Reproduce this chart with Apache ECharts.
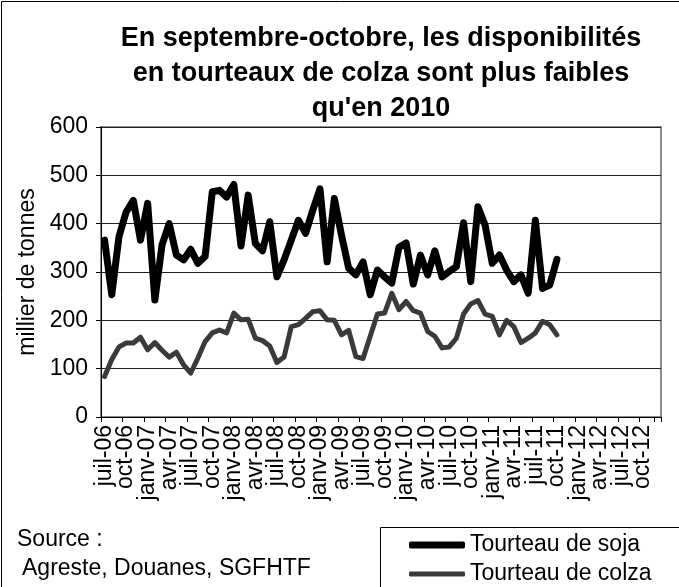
<!DOCTYPE html>
<html>
<head>
<meta charset="utf-8">
<script src="https://cdn.jsdelivr.net/npm/echarts@6/dist/echarts.min.js"></script>
<style>
html,body{margin:0;padding:0;background:#fff;}
#chart{width:679px;height:587px;}
</style>
</head>
<body>
<div id="chart"></div>
<script>
// ---- data ----
var monthNames = ['janv','févr','mars','avr','mai','juin','juil','août','sept','oct','nov','déc'];
var startYear = 2006, startMonth = 6, nMonths = 78; // juil-06 .. déc-12
var categories = [];
for (var k = 0; k < nMonths; k++) {
  var m = (startMonth + k) % 12;
  var y = startYear + Math.floor((startMonth + k) / 12);
  categories.push(monthNames[m] + '-' + String(y).slice(2));
}
// juil-06 .. oct-11 (milliers de tonnes)
var soja = [366,253,373,424,448,366,442,242,356,400,335,325,347,318,332,466,469,455,481,354,
            459,359,344,404,290,325,366,407,380,428,472,321,452,376,308,294,321,253,304,290,
            277,351,360,275,335,294,344,290,301,311,402,280,435,397,318,335,304,280,294,256,
            407,266,273,326];
var colza = [84,119,145,153,153,165,139,154,138,124,134,108,91,122,156,174,180,174,215,201,
             202,163,158,147,113,124,187,191,204,218,220,201,200,170,179,125,121,167,213,215,
             256,222,239,220,215,177,167,143,145,163,213,234,241,213,208,170,200,187,154,163,
             174,198,191,170];
var yTicks = {min: 0, max: 600, interval: 100};
var labelEvery = 3;
var seriesNames = ['Tourteau de soja', 'Tourteau de colza'];
var titleText = "En septembre-octobre, les disponibilités\nen tourteaux de colza sont plus faibles\nqu'en 2010";

var FONT = '"Liberation Sans", Arial, sans-serif';
var chart = echarts.init(document.getElementById('chart'), null, {renderer: 'canvas'});
var legendText = {fontSize: 23, color: '#000', fontFamily: FONT, lineHeight: 26};
chart.setOption({
  animation: false,
  backgroundColor: '#fff',
  textStyle: {fontFamily: FONT, color: '#000'},
  title: {
    text: titleText,
    left: 376, top: 16, textAlign: 'center',
    textStyle: {fontFamily: FONT, fontSize: 27, fontWeight: 'bold', color: '#000', lineHeight: 35}
  },
  grid: {left: 101, right: 18, top: 127, bottom: 170, show: true, borderColor: '#8c8c8c', borderWidth: 2, backgroundColor: 'transparent'},
  xAxis: {
    type: 'category',
    data: categories,
    boundaryGap: true,
    axisLine: {lineStyle: {color: '#000', width: 1}},
    axisTick: {show: true, interval: labelEvery - 1, length: 5, lineStyle: {color: '#000'}},
    axisLabel: {interval: 0, rotate: 90, margin: 8, fontSize: 23, color: '#000', fontFamily: FONT,
                hideOverlap: false,
                formatter: function (v, i) { return i % labelEvery === 0 ? v : ''; }},
    splitLine: {show: false}
  },
  yAxis: {
    type: 'value',
    min: yTicks.min, max: yTicks.max, interval: yTicks.interval,
    name: 'millier de tonnes',
    nameLocation: 'middle',
    nameGap: 44,
    nameTextStyle: {fontSize: 23, color: '#000', fontFamily: FONT},
    axisLine: {show: true, lineStyle: {color: '#000', width: 1}},
    axisTick: {show: true, length: 5, lineStyle: {color: '#000'}},
    axisLabel: {fontSize: 23, color: '#000', margin: 13, fontFamily: FONT, showMinLabel: true, showMaxLabel: true},
    splitLine: {show: true, lineStyle: {color: '#222', width: 1}}
  },
  legend: [
    {left: 409, top: 532, itemWidth: 56, itemHeight: 7, icon: 'roundRect', textStyle: legendText, data: [seriesNames[0]], padding: 0},
    {left: 409, top: 561, itemWidth: 56, itemHeight: 5, icon: 'roundRect', textStyle: legendText, data: [seriesNames[1]], padding: 0}
  ],
  graphic: [
    {type: 'rect', z: -1, silent: true, shape: {x: 1.5, y: 1.5, width: 700, height: 700}, style: {fill: 'none', stroke: '#000', lineWidth: 1}},
    {type: 'rect', z: 0, silent: true, shape: {x: 380.5, y: 527.5, width: 400, height: 100}, style: {fill: '#fff', stroke: '#000', lineWidth: 1}},
    {type: 'text', left: 17, top: 528, style: {text: 'Source :', fontSize: 23, fontFamily: FONT, fill: '#000'}},
    {type: 'text', left: 22, top: 557, style: {text: 'Agreste, Douanes, SGFHTF', fontSize: 23, fontFamily: FONT, fill: '#000'}}
  ],
  series: [
    {name: seriesNames[0], type: 'line', data: soja, symbol: 'none', itemStyle: {color: '#000'},
     lineStyle: {color: '#000', width: 7, join: 'round', cap: 'round'}, z: 3},
    {name: seriesNames[1], type: 'line', data: colza, symbol: 'none', itemStyle: {color: '#3a3a3a'},
     lineStyle: {color: '#3a3a3a', width: 5, join: 'round', cap: 'round'}, z: 2}
  ]
});
</script>
</body>
</html>
